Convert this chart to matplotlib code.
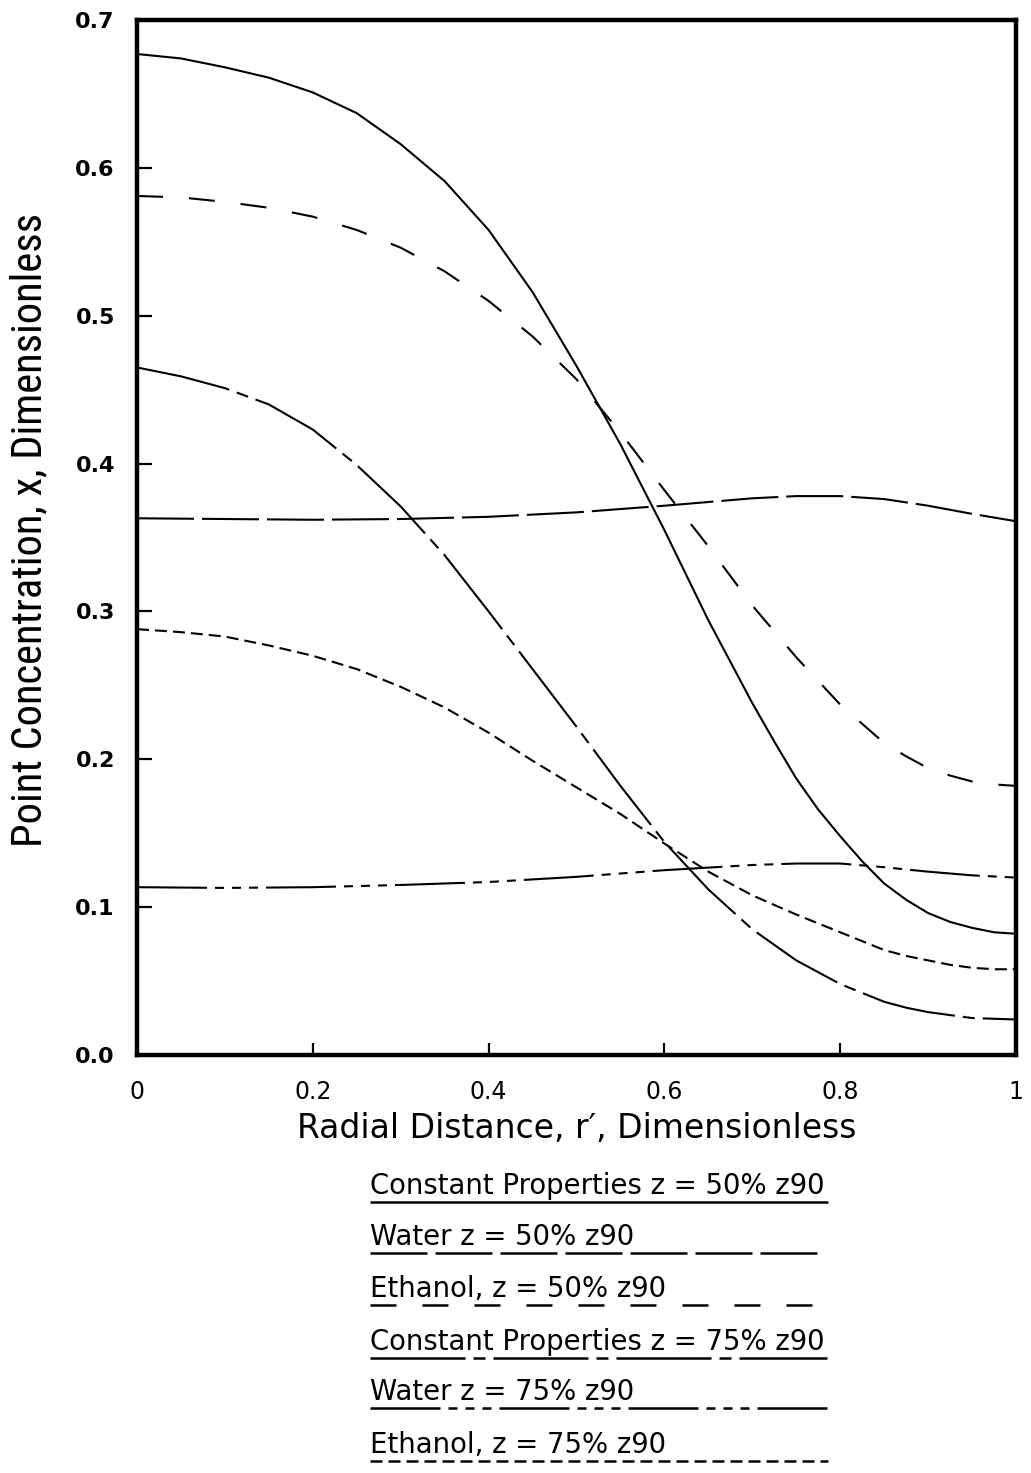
import matplotlib
matplotlib.use("Agg")
import matplotlib.pyplot as plt
from matplotlib.lines import Line2D
from matplotlib import font_manager as fm

# ---------------- data ----------------
const50_x = [0.0, 0.05, 0.1, 0.15, 0.2, 0.25, 0.3, 0.35, 0.4, 0.45, 0.5,
             0.55, 0.6, 0.65, 0.7, 0.725, 0.75, 0.775, 0.8, 0.825, 0.85, 0.875,
             0.9, 0.925, 0.95, 0.975, 1.0]
const50_y = [0.677, 0.674, 0.668, 0.661, 0.651, 0.637, 0.616, 0.591, 0.558, 0.516, 0.466,
             0.413, 0.355, 0.294, 0.238, 0.212, 0.187, 0.166, 0.148, 0.131, 0.116, 0.105,
             0.096, 0.090, 0.086, 0.083, 0.082]

water50_x = [0.0, 0.1, 0.2, 0.3, 0.4, 0.5, 0.6, 0.7, 0.75, 0.8, 0.85, 0.9, 0.95, 1.0]
water50_y = [0.363, 0.3625, 0.362, 0.3625, 0.364, 0.367, 0.3715, 0.3765, 0.378, 0.378,
             0.376, 0.3715, 0.366, 0.361]

eth50_x = [0.0, 0.05, 0.1, 0.15, 0.2, 0.25, 0.3, 0.35, 0.4, 0.45, 0.5,
           0.55, 0.6, 0.65, 0.7, 0.75, 0.8, 0.85, 0.875, 0.9, 0.925, 0.95, 0.975, 1.0]
eth50_y = [0.581, 0.580, 0.577, 0.573, 0.567, 0.558, 0.546, 0.530, 0.510, 0.486, 0.457,
           0.421, 0.382, 0.344, 0.304, 0.269, 0.237, 0.211, 0.202, 0.194, 0.189, 0.185,
           0.183, 0.182]

const75_x = [0.0, 0.05, 0.1, 0.15, 0.2, 0.25, 0.3, 0.35, 0.4, 0.45, 0.5,
             0.55, 0.6, 0.65, 0.7, 0.75, 0.8, 0.825, 0.85, 0.875, 0.9, 0.925, 0.95,
             0.975, 1.0]
const75_y = [0.465, 0.459, 0.451, 0.440, 0.423, 0.399, 0.371, 0.338, 0.300, 0.261, 0.222,
             0.182, 0.144, 0.112, 0.085, 0.064, 0.048, 0.042, 0.036, 0.032, 0.029, 0.027,
             0.025, 0.0245, 0.024]

water75_x = [0.0, 0.1, 0.2, 0.3, 0.4, 0.5, 0.6, 0.7, 0.75, 0.8, 0.85, 0.9, 0.95, 1.0]
water75_y = [0.1135, 0.113, 0.1135, 0.115, 0.117, 0.1205, 0.125, 0.1285, 0.1295, 0.1295,
             0.127, 0.124, 0.1215, 0.120]

eth75_x = [0.0, 0.05, 0.1, 0.15, 0.2, 0.25, 0.3, 0.35, 0.4, 0.45, 0.5,
           0.55, 0.6, 0.65, 0.7, 0.75, 0.8, 0.825, 0.85, 0.875, 0.9, 0.925, 0.95,
           0.975, 1.0]
eth75_y = [0.288, 0.286, 0.283, 0.277, 0.270, 0.261, 0.249, 0.235, 0.218, 0.199, 0.181,
           0.163, 0.143, 0.124, 0.108, 0.095, 0.083, 0.077, 0.071, 0.067, 0.064, 0.061,
           0.059, 0.058, 0.058]

labels = ["Constant Properties z = 50% z90",
          "Water z = 50% z90",
          "Ethanol, z = 50% z90",
          "Constant Properties z = 75% z90",
          "Water z = 75% z90",
          "Ethanol, z = 75% z90"]

x_ticks = [0, 0.2, 0.4, 0.6, 0.8, 1.0]
x_tick_labels = ["0", "0.2", "0.4", "0.6", "0.8", "1"]
y_ticks = [0.0, 0.1, 0.2, 0.3, 0.4, 0.5, 0.6, 0.7]
y_tick_labels = ["0.0", "0.1", "0.2", "0.3", "0.4", "0.5", "0.6", "0.7"]

x_label = "Radial Distance, r\u2032, Dimensionless"
y_label = "Point Concentration, x, Dimensionless"

# ---------------- styles ----------------
plt.rcParams['lines.scale_dashes'] = False
PX = 0.72  # points per pixel at dpi=100


def pat(*px):
    return (0, tuple(p * PX for p in px))


styles = [
    '-',                                   # constant 50%
    pat(57, 8),                            # water 50%  (long dash)
    pat(26, 26),                           # ethanol 50% (spaced dash)
    pat(95, 8, 12, 8),                     # constant 75% (long-short)
    pat(70, 8, 9, 8, 9, 8, 9, 8),          # water 75% (long + 3 short)
    pat(12, 6),                            # ethanol 75% (short dash)
]

series = [(const50_x, const50_y), (water50_x, water50_y), (eth50_x, eth50_y),
          (const75_x, const75_y), (water75_x, water75_y), (eth75_x, eth75_y)]


def have_font(name):
    try:
        fm.findfont(fm.FontProperties(family=name), fallback_to_default=False)
        return True
    except Exception:
        return False


narrow = None
for cand in ['Liberation Sans Narrow', 'DejaVu Sans Condensed', 'Roboto Condensed']:
    if have_font(cand):
        narrow = cand
        break

W, H = 1031, 1473
fig = plt.figure(figsize=(W / 100, H / 100), dpi=100)
ax = fig.add_axes([137 / W, (H - 1055) / H, 879 / W, 1035 / H])

for (xs, ys), ls in zip(series, styles):
    ax.plot(xs, ys, color='black', lw=1.5, linestyle=ls, solid_capstyle='butt',
            dash_capstyle='butt', solid_joinstyle='round')

ax.set_xlim(0, 1)
ax.set_ylim(0, 0.7)
for s in ax.spines.values():
    s.set_linewidth(3.2)
ax.set_xticks(x_ticks)
ax.set_xticklabels(x_tick_labels, fontsize=17, family='DejaVu Sans')
ax.set_yticks(y_ticks)
ax.set_yticklabels(y_tick_labels, fontsize=16, family='DejaVu Sans', fontweight='bold')
ax.tick_params(axis='y', direction='in', length=11, width=1.6, pad=16)
ax.tick_params(axis='x', direction='in', length=9, width=1.6, pad=18)

fig.canvas.draw()
renderer = fig.canvas.get_renderer()


def fit_width(t, target):
    bb = t.get_window_extent(renderer)
    t.set_fontsize(t.get_fontsize() * target / bb.width)


def fit_height(t, target):
    bb = t.get_window_extent(renderer)
    t.set_fontsize(t.get_fontsize() * target / bb.height)


xl = fig.text(577 / W, 1 - 1129 / H, x_label, ha='center', va='center',
              fontsize=20, family='DejaVu Sans')
fit_width(xl, 560)

if narrow is not None:
    yl = fig.text(30 / W, 1 - 530 / H, y_label, ha='center', va='center', rotation=90,
                  fontsize=24, family=[narrow, 'DejaVu Sans'])
else:
    yl = fig.text(30 / W, 1 - 530 / H, y_label, ha='center', va='center', rotation=90,
                  fontsize=24, family='DejaVu Sans', fontstretch='condensed')
fit_height(yl, 636)

# ---------------- legend: text underlined with the line pattern ----------------
underline_y = [1202, 1253, 1305, 1358, 1408, 1461]
underline_end = [828, 822, 815, 827, 827, 828]
texts = []
for lab, uy in zip(labels, underline_y):
    t = fig.text(370 / W, 1 - (uy - 8) / H, lab, ha='left', va='baseline',
                 fontsize=18, family='DejaVu Sans')
    texts.append(t)
fig.canvas.draw()
bb0 = texts[0].get_window_extent(renderer)
fs = texts[0].get_fontsize() * 455 / bb0.width
for t in texts:
    t.set_fontsize(fs)

for uy, ue, ls in zip(underline_y, underline_end, styles):
    fig.add_artist(Line2D([370 / W, ue / W], [1 - uy / H, 1 - uy / H],
                          transform=fig.transFigure, color='black', lw=1.8,
                          linestyle=ls, solid_capstyle='butt', dash_capstyle='butt'))

fig.savefig("out.png", dpi=100)
